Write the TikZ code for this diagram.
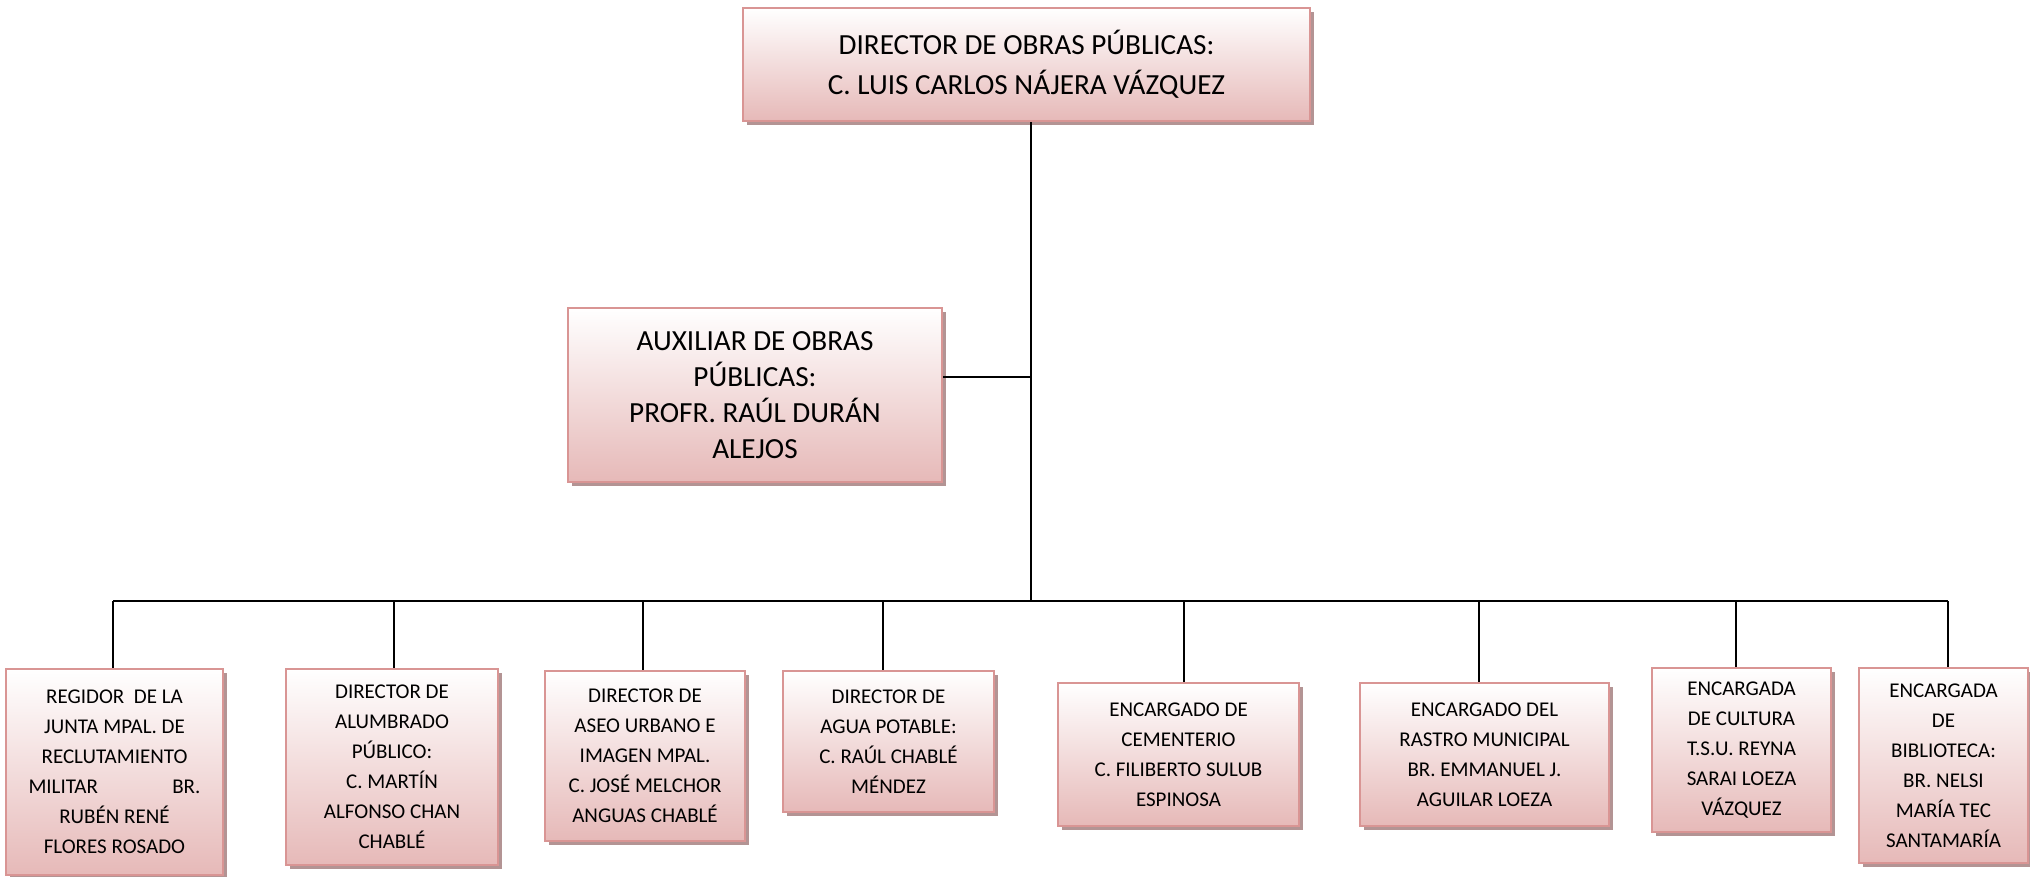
\documentclass[tikz,border=0pt]{standalone}
\usepackage{fontspec}
\setmainfont{Carlito}
\usetikzlibrary{shadows, positioning}
\definecolor{borde}{HTML}{D99594}
\definecolor{fondo}{HTML}{E6B9B8}
\definecolor{sombra}{HTML}{B39494}

\begin{document}
\begin{tikzpicture}[x=0.5pt, y=-0.5pt,
    caja/.style={draw=borde, line width=1.2pt, top color=white, bottom color=fondo,
        align=center, inner sep=0pt,
        drop shadow={shadow xshift=1.8pt, shadow yshift=-1.8pt, fill=sombra, opacity=1}},
    grande/.style={caja, font=\fontsize{14.6}{20}\selectfont},
    chica/.style={caja, font=\fontsize{10.5}{15}\selectfont},
    linea/.style={line width=1pt}]
    \useasboundingbox (0,0) rectangle (2030,877);

    % jefe y auxiliar
    \node[grande, minimum width=283.5pt, minimum height=56.5pt] (director) at (1026.5,64.5)
        {DIRECTOR DE OBRAS PÚBLICAS:\\C. LUIS CARLOS NÁJERA VÁZQUEZ};
    \node[grande, font=\fontsize{14.6}{18}\selectfont, minimum width=187pt, minimum height=87pt] (auxiliar) at (755,395)
        {AUXILIAR DE OBRAS\\PÚBLICAS:\\PROFR. RAÚL DURÁN\\ALEJOS};

    % encargados
    \node[chica, minimum width=108.5pt, minimum height=103pt] (regidor) at (114.5,772)
        {REGIDOR\ \ DE LA\\JUNTA MPAL. DE\\RECLUTAMIENTO\\\makebox[86pt]{MILITAR\hfill BR.}\\RUBÉN RENÉ\\FLORES ROSADO};
    \node[chica, minimum width=106pt, minimum height=98pt] (alumbrado) at (392,767)
        {DIRECTOR DE\\ALUMBRADO\\PÚBLICO:\\C. MARTÍN\\ALFONSO CHAN\\CHABLÉ};
    \node[chica, minimum width=100pt, minimum height=85pt] (aseo) at (645,756)
        {DIRECTOR DE\\ASEO URBANO E\\IMAGEN MPAL.\\C. JOSÉ MELCHOR\\ANGUAS CHABLÉ};
    \node[chica, minimum width=105.5pt, minimum height=70.5pt] (agua) at (888.5,741.5)
        {DIRECTOR DE\\AGUA POTABLE:\\C. RAÚL CHABLÉ\\MÉNDEZ};
    \node[chica, minimum width=120.5pt, minimum height=71.5pt] (cementerio) at (1178.5,754.5)
        {ENCARGADO DE\\CEMENTERIO\\C. FILIBERTO SULUB\\ESPINOSA};
    \node[chica, minimum width=124.5pt, minimum height=71.5pt] (rastro) at (1484.5,754.5)
        {ENCARGADO DEL\\RASTRO MUNICIPAL\\BR. EMMANUEL J.\\AGUILAR LOEZA};
    \node[chica, minimum width=89.5pt, minimum height=82pt] (cultura) at (1741.5,750)
        {ENCARGADA\\DE CULTURA\\T.S.U. REYNA\\SARAI LOEZA\\VÁZQUEZ};
    \node[chica, minimum width=84.5pt, minimum height=97.5pt] (biblioteca) at (1943.5,765.5)
        {ENCARGADA\\DE\\BIBLIOTECA:\\BR. NELSI\\MARÍA TEC\\SANTAMARÍA};

    % lineas
    \coordinate (eje) at (1031,601);
    \coordinate (enlace) at (1031,377);
    \draw[linea] (director.south -| eje) -- (eje);
    \draw[linea] (auxiliar.east |- enlace) -- (enlace);
    \draw[linea] ([xshift=-0.75pt]regidor.north |- eje) -- ([xshift=2.25pt]biblioteca.north |- eje);
    \foreach \n/\d in {regidor/-0.75, alumbrado/1, aseo/-1, agua/-2.75, cementerio/2.75, rastro/-2.75, cultura/-2.75, biblioteca/2.25}
        \draw[linea] ([xshift=\d pt]\n.north) -- ([xshift=\d pt]\n.north |- eje);
\end{tikzpicture}
\end{document}
